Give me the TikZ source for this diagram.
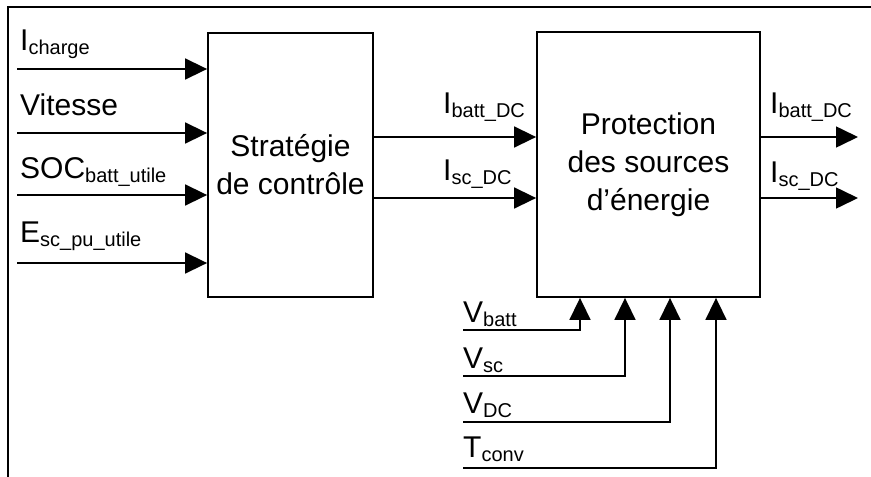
\documentclass[tikz,border=0pt]{standalone}
\usepackage{fontspec}
\setmainfont{Liberation Sans}
\usetikzlibrary{arrows.meta, positioning, calc}
\newcommand{\sbs}[1]{\raisebox{-4pt}{\fontsize{20}{20}\selectfont #1}}

\begin{document}
\begin{tikzpicture}[x=1pt, y=-1pt,
  sig/.style={line width=1.6pt, -{Triangle[length=22pt,width=21pt]}},
  blk/.style={draw, line width=1.8pt, align=center, font=\fontsize{30}{38}\selectfont},
  lbl/.style={anchor=base west, inner sep=0pt, font=\fontsize{30}{34}\selectfont}]
  \useasboundingbox (0,0) rectangle (871,477);
  \draw[line width=1.8pt] (8,477) -- (8,7) -- (871,7);
  % Blocks
  \node[blk, minimum width=165pt, minimum height=264pt] (strat) at (290.5,165) {Stratégie\\de contrôle};
  \node[blk, minimum width=223pt, minimum height=265pt] (prot) at (648.5,164.5) {Protection\\des sources\\d'énergie};
  % Inputs of the strategy
  \coordinate (ich) at (17,69);
  \coordinate (vit) at (17,133);
  \coordinate (soc) at (17,195);
  \coordinate (esc) at (17,263);
  \draw[sig] (ich) -- (ich -| strat.west);
  \draw[sig] (vit) -- (vit -| strat.west);
  \draw[sig] (soc) -- (soc -| strat.west);
  \draw[sig] (esc) -- (esc -| strat.west);
  \node[lbl] (lich) at (20,50) {I\sbs{charge}};
  \node[lbl] (lvit) at (20,115) {Vitesse};
  \node[lbl] (lsoc) at (20,178) {SOC\sbs{batt\_utile}};
  \node[lbl] (lesc) at (20,242) {E\sbs{sc\_pu\_utile}};
  % References between blocks
  \coordinate (yb) at (0,137);
  \coordinate (ys) at (0,198);
  \draw[sig] (strat.east |- yb) -- (prot.west |- yb);
  \draw[sig] (strat.east |- ys) -- (prot.west |- ys);
  \node[lbl] (lmb) at (443,113) {I\sbs{batt\_DC}};
  \node[lbl] (lms) at (443,180) {I\sbs{sc\_DC}};
  % Outputs
  \coordinate (ob) at (858,137);
  \coordinate (os) at (858,198);
  \draw[sig] (prot.east |- ob) -- (ob);
  \draw[sig] (prot.east |- os) -- (os);
  \node[lbl] (lob) at (770,113) {I\sbs{batt\_DC}};
  \node[lbl] (los) at (770,182) {I\sbs{sc\_DC}};
  % Measurements
  \coordinate (vb) at (463,330);
  \coordinate (vs) at (463,376);
  \coordinate (vd) at (463,422);
  \coordinate (tc) at (463,468);
  \coordinate (xb) at (580,0);
  \coordinate (xs) at (625,0);
  \coordinate (xd) at (670,0);
  \coordinate (xt) at (716,0);
  \draw[sig] (vb) -| (xb |- prot.south);
  \draw[sig] (vs) -| (xs |- prot.south);
  \draw[sig] (vd) -| (xd |- prot.south);
  \draw[sig] (tc) -| (xt |- prot.south);
  \node[lbl] (lvb) at (463,322) {V\sbs{batt}};
  \node[lbl] (lvs) at (463,368) {V\sbs{sc}};
  \node[lbl] (lvd) at (463,413) {V\sbs{DC}};
  \node[lbl] (ltc) at (463,457) {T\sbs{conv}};
\end{tikzpicture}
\end{document}
